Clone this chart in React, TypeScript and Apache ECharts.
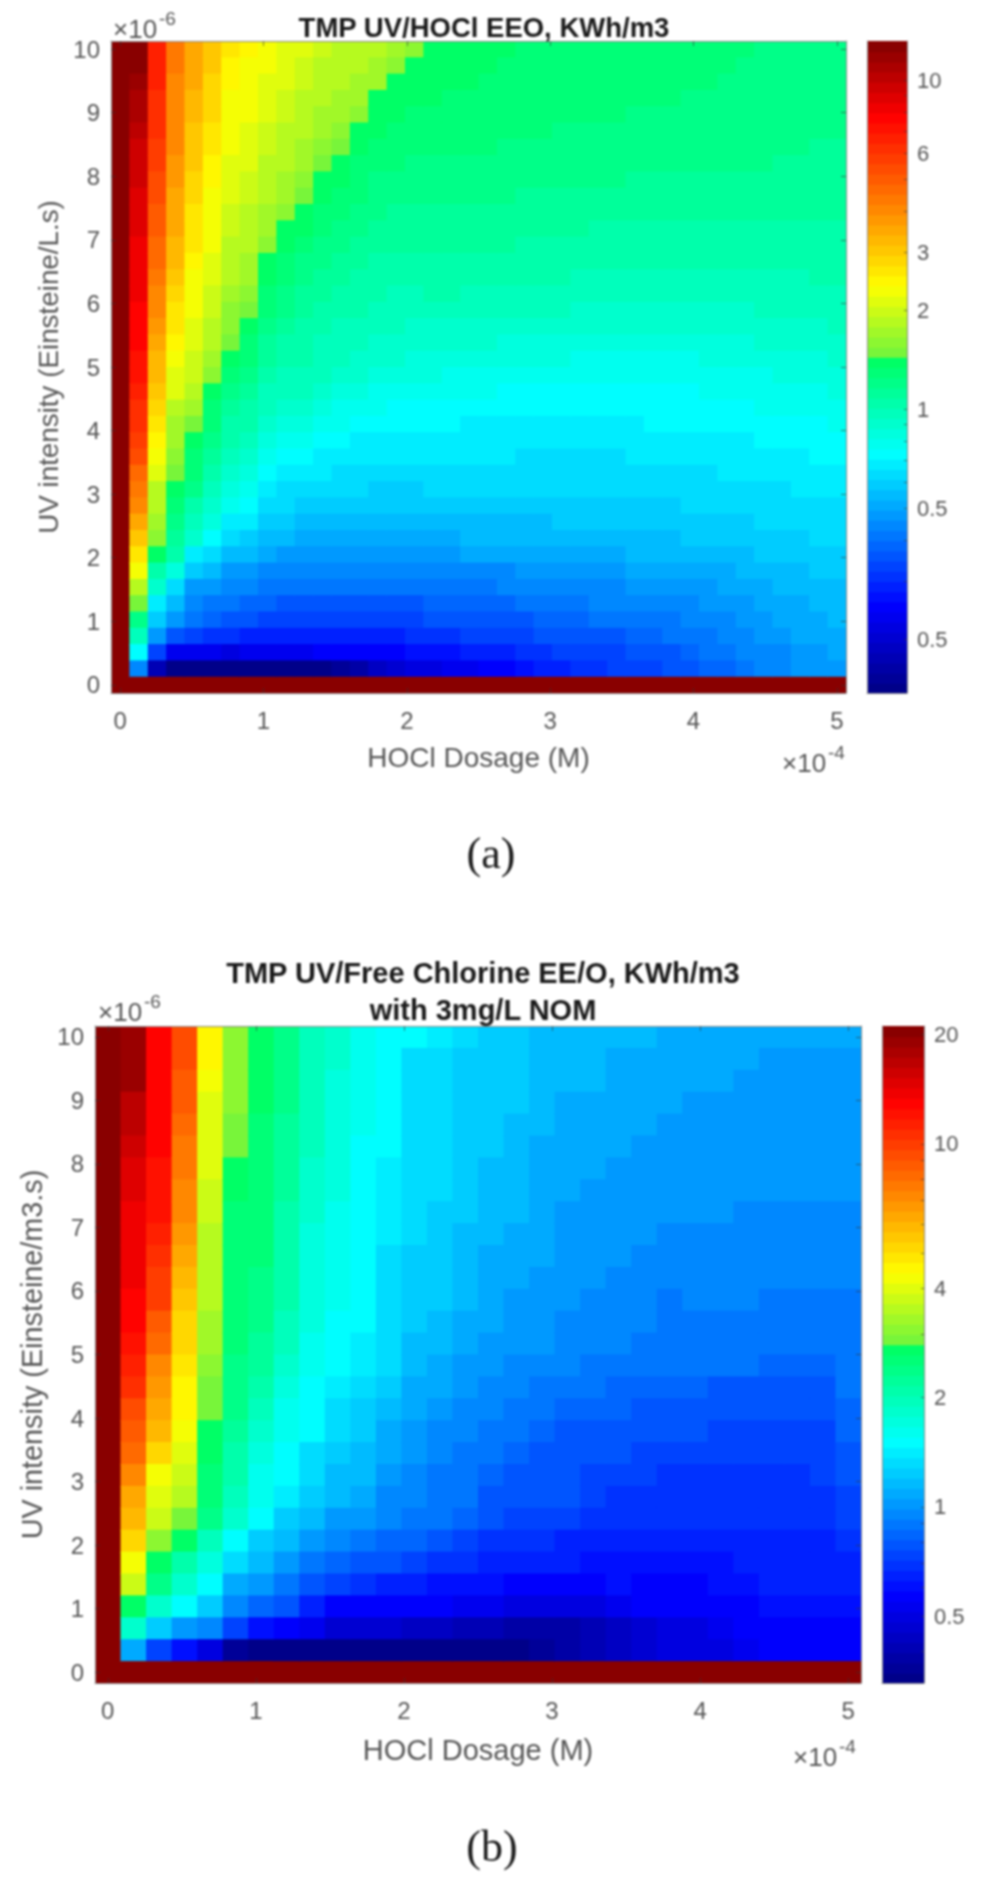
import React, { useEffect, useRef } from "react";
import * as echarts from "echarts";

const titleA = "TMP UV/HOCl EEO, KWh/m3";
const titleB = "TMP UV/Free Chlorine EE/O, KWh/m3\nwith 3mg/L NOM";
const xNameBoth = "HOCl Dosage (M)";
const yNameA = "UV intensity (Einsteine/L.s)";
const yNameB = "UV intensity (Einsteine/m3.s)";
const xTicks = [0, 1, 2, 3, 4, 5];
const yTicks = [0, 1, 2, 3, 4, 5, 6, 7, 8, 9, 10];
const barTicksA = [10, 9, 8, 7, 6, 5, 4, 3, 2, 1, 0.9, 0.8, 0.7, 0.6, 0.5, 0.4, 0.3, 0.2];
const barLabelsA: [number, string][] = [[10, "10"], [6, "6"], [3, "3"], [2, "2"], [1, "1"], [0.5, "0.5"], [0.2, "0.5"]];
const barTicksB = [20, 10, 9, 8, 7, 6, 5, 4, 3, 2, 1, 0.9, 0.8, 0.7, 0.6, 0.5, 0.4];
const barLabelsB: [number, string][] = [[20, "20"], [10, "10"], [4, "4"], [2, "2"], [1, "1"], [0.5, "0.5"]];

// EEO values, one list per HOCl dosage (left to right), each from top row (UV = 10) down to UV = 0
const eeoA = [
[13.5,13.5,13.5,13.5,13.5,13.5,13.5,13.5,13.5,13.5,13.5,13.5,13.5,13.5,13.5,13.5,13.5,13.5,13.5,13.5,13.5,13.5,13.5,13.5,13.5,13.5,13.5,13.5,13.5,13.5,13.5,13.5,13.5,13.5,13.5,13.5,13.5,13.5,13.5,13.5],
[13,12.5,12,11,10.8,10.5,10,9.8,9.5,9.2,9,8.8,8.5,8.4,8.3,8.2,8,7.9,7.7,7.4,7.1,6.9,6.5,6.1,5.7,5.3,4.9,4.5,4.1,3.7,3.2,2.7,2.3,1.9,1.55,1.25,1,.76,.46,13.5],
[6.6,6.6,6.6,6.5,6.4,6.3,6,5.8,5.6,5.4,5.2,5,4.9,4.7,4.5,4.2,4,3.8,3.6,3.4,3.3,3.1,2.9,2.7,2.45,2.3,2.1,1.95,1.85,1.75,1.65,1.38,1.1,.9,.72,.62,.5,.33,.18,13.5],
[4.3,4.3,4.2,4.2,4.2,4.1,4,3.9,3.8,3.7,3.6,3.5,3.4,3.3,3.1,2.9,2.7,2.6,2.5,2.35,2.2,2.1,1.95,1.8,1.7,1.6,1.5,1.38,1.3,1.22,1.15,1.05,.84,.66,.58,.5,.37,.24,.15,13.5],
[3.6,3.6,3.5,3.4,3.3,3.2,3.1,3,2.95,2.85,2.75,2.7,2.6,2.5,2.4,2.35,2.3,2.2,2.1,2.05,2,1.9,1.75,1.55,1.42,1.36,1.3,1.2,1.1,1,.9,.72,.6,.5,.45,.41,.33,.24,.145,13.5],
[3.05,3,2.95,2.9,2.8,2.7,2.6,2.5,2.45,2.4,2.35,2.3,2.25,2.15,2.1,2.05,2,1.9,1.85,1.75,1.6,1.42,1.36,1.3,1.22,1.15,1.08,1,.92,.85,.75,.65,.55,.48,.43,.39,.32,.235,.14,13.5],
[2.6,2.55,2.5,2.4,2.35,2.3,2.25,2.2,2.15,2.1,2.05,2,1.95,1.9,1.85,1.75,1.65,1.6,1.5,1.42,1.34,1.25,1.18,1.1,1.05,1,.95,.88,.8,.72,.65,.58,.5,.45,.41,.37,.31,.23,.14,13.5],
[2.45,2.4,2.35,2.3,2.25,2.2,2.15,2.1,2.05,2,1.95,1.9,1.85,1.8,1.7,1.6,1.52,1.42,1.34,1.28,1.22,1.16,1.1,1.04,.98,.92,.86,.8,.74,.68,.62,.55,.49,.44,.4,.36,.3,.24,.14,13.5],
[2.3,2.25,2.2,2.15,2.1,2.05,2,1.95,1.9,1.85,1.8,1.7,1.6,1.42,1.38,1.33,1.28,1.23,1.18,1.12,1.07,1.02,.98,.92,.86,.8,.75,.7,.66,.62,.57,.52,.47,.43,.39,.35,.3,.24,.14,13.5],
[2.2,2.15,2.1,2.05,2,1.95,1.9,1.85,1.8,1.7,1.6,1.42,1.38,1.33,1.29,1.24,1.19,1.14,1.1,1.05,1,.96,.94,.88,.82,.76,.71,.67,.63,.59,.55,.5,.46,.42,.38,.34,.3,.24,.14,13.5],
[2.1,2.05,2,1.95,1.9,1.85,1.8,1.7,1.6,1.5,1.42,1.37,1.32,1.27,1.22,1.18,1.14,1.1,1.06,1.03,1,.96,.92,.86,.8,.74,.7,.66,.62,.58,.54,.49,.45,.41,.37,.34,.3,.24,.145,13.5],
[2,1.95,1.9,1.85,1.8,1.75,1.65,1.55,1.42,1.38,1.34,1.3,1.26,1.22,1.18,1.14,1.1,1.06,1.02,.99,.96,.92,.87,.81,.77,.72,.68,.65,.61,.57,.53,.49,.45,.41,.38,.34,.3,.25,.15,13.5],
[1.95,1.9,1.85,1.8,1.72,1.65,1.55,1.42,1.38,1.34,1.3,1.26,1.22,1.18,1.14,1.1,1.06,1.02,.99,.96,.93,.88,.83,.78,.74,.7,.67,.64,.6,.56,.53,.48,.45,.41,.38,.34,.3,.25,.16,13.5],
[1.9,1.85,1.8,1.72,1.62,1.42,1.4,1.36,1.32,1.28,1.24,1.2,1.17,1.14,1.1,1.06,1.03,1,.97,.94,.9,.85,.8,.76,.72,.69,.66,.63,.59,.55,.52,.48,.44,.41,.37,.34,.3,.26,.17,13.5],
[1.85,1.8,1.7,1.42,1.4,1.38,1.35,1.31,1.27,1.23,1.19,1.16,1.13,1.1,1.07,1.03,1,.97,.94,.91,.88,.83,.78,.74,.71,.68,.65,.62,.59,.55,.52,.48,.44,.41,.37,.34,.3,.26,.19,13.5],
[1.75,1.62,1.42,1.4,1.37,1.34,1.31,1.28,1.24,1.2,1.17,1.14,1.11,1.08,1.05,1.02,.99,.96,.93,.9,.87,.8,.76,.73,.7,.68,.65,.62,.6,.56,.53,.49,.45,.41,.38,.34,.3,.26,.21,13.5],
[1.62,1.42,1.41,1.39,1.36,1.33,1.3,1.27,1.24,1.21,1.17,1.14,1.11,1.08,1.05,1.02,.98,.95,.92,.89,.85,.8,.76,.73,.7,.68,.65,.62,.59,.56,.53,.49,.45,.41,.38,.35,.31,.27,.22,13.5],
[1.4,1.4,1.39,1.37,1.35,1.33,1.3,1.27,1.24,1.21,1.18,1.15,1.12,1.09,1.06,1.03,.99,.95,.92,.88,.84,.79,.76,.73,.71,.68,.65,.63,.6,.57,.54,.5,.46,.42,.39,.36,.32,.28,.23,13.5],
[1.39,1.39,1.38,1.36,1.34,1.32,1.29,1.26,1.23,1.2,1.18,1.15,1.12,1.09,1.06,1.03,.99,.95,.91,.87,.83,.79,.75,.73,.71,.68,.65,.63,.6,.57,.54,.5,.46,.42,.39,.36,.32,.28,.24,13.5],
[1.38,1.38,1.37,1.35,1.33,1.31,1.28,1.25,1.22,1.2,1.17,1.14,1.12,1.09,1.05,1.02,.98,.94,.9,.86,.82,.78,.75,.72,.7,.68,.65,.63,.6,.58,.55,.51,.47,.43,.39,.36,.33,.29,.245,13.5],
[1.38,1.37,1.36,1.34,1.33,1.31,1.28,1.25,1.22,1.19,1.17,1.14,1.12,1.09,1.05,1.02,.98,.94,.9,.86,.82,.78,.75,.72,.7,.68,.65,.63,.61,.58,.55,.51,.47,.43,.39,.36,.33,.29,.25,13.5],
[1.37,1.36,1.35,1.33,1.32,1.3,1.27,1.25,1.22,1.19,1.16,1.14,1.11,1.08,1.05,1.01,.97,.93,.89,.85,.81,.77,.75,.72,.7,.68,.65,.63,.61,.58,.55,.52,.47,.44,.4,.37,.34,.3,.26,13.5],
[1.36,1.35,1.34,1.33,1.31,1.29,1.27,1.24,1.21,1.18,1.16,1.13,1.1,1.08,1.04,1.01,.97,.93,.89,.85,.8,.77,.74,.71,.69,.67,.65,.63,.6,.58,.56,.52,.48,.44,.41,.38,.35,.31,.28,13.5],
[1.35,1.35,1.33,1.32,1.3,1.28,1.26,1.23,1.21,1.18,1.15,1.12,1.1,1.07,1.03,1,.96,.92,.88,.84,.8,.77,.74,.71,.69,.67,.65,.63,.6,.58,.56,.52,.49,.45,.42,.39,.36,.32,.29,13.5],
[1.35,1.34,1.33,1.31,1.3,1.27,1.25,1.23,1.2,1.17,1.15,1.12,1.09,1.06,1.03,1,.96,.92,.88,.84,.79,.76,.74,.72,.69,.67,.65,.63,.6,.59,.56,.53,.49,.46,.42,.39,.36,.33,.3,13.5],
[1.34,1.33,1.32,1.31,1.29,1.27,1.25,1.22,1.2,1.17,1.14,1.11,1.08,1.05,1.02,.99,.95,.92,.87,.83,.79,.76,.74,.72,.69,.67,.65,.63,.61,.59,.57,.53,.5,.46,.43,.4,.37,.34,.31,13.5],
[1.33,1.33,1.31,1.3,1.28,1.26,1.24,1.22,1.19,1.16,1.13,1.1,1.07,1.05,1.02,.98,.95,.91,.87,.83,.78,.76,.74,.72,.69,.67,.65,.63,.61,.59,.57,.54,.5,.47,.44,.41,.38,.35,.32,13.5],
[1.33,1.32,1.31,1.3,1.28,1.26,1.24,1.22,1.19,1.16,1.13,1.1,1.07,1.04,1.01,.98,.94,.91,.87,.82,.78,.76,.74,.72,.69,.67,.65,.63,.61,.59,.57,.54,.5,.47,.44,.41,.38,.35,.33,13.5],
[1.32,1.31,1.3,1.29,1.27,1.26,1.23,1.21,1.18,1.16,1.13,1.1,1.06,1.04,1.01,.98,.94,.91,.87,.82,.78,.76,.74,.72,.7,.68,.66,.64,.62,.6,.58,.55,.51,.48,.45,.42,.39,.36,.34,13.5],
[1.31,1.3,1.29,1.28,1.27,1.25,1.23,1.21,1.18,1.15,1.13,1.09,1.06,1.04,1.01,.98,.95,.91,.87,.83,.79,.77,.75,.73,.7,.68,.66,.64,.62,.6,.58,.55,.52,.48,.45,.42,.4,.37,.35,13.5],
[1.31,1.3,1.29,1.28,1.26,1.25,1.23,1.2,1.18,1.15,1.12,1.09,1.06,1.03,1,.98,.95,.91,.87,.83,.79,.77,.75,.73,.7,.68,.66,.64,.62,.6,.58,.56,.52,.49,.46,.43,.41,.38,.36,13.5],
[1.3,1.29,1.28,1.27,1.26,1.24,1.22,1.2,1.17,1.15,1.12,1.09,1.06,1.03,1,.98,.95,.91,.88,.83,.8,.77,.75,.73,.71,.69,.67,.65,.63,.61,.59,.56,.53,.5,.47,.44,.42,.39,.37,13.5],
[1.3,1.29,1.28,1.26,1.25,1.24,1.22,1.2,1.17,1.15,1.12,1.09,1.06,1.03,1,.98,.95,.92,.88,.84,.8,.78,.76,.74,.71,.69,.67,.65,.63,.61,.59,.57,.53,.5,.48,.45,.43,.41,.39,13.5],
[1.29,1.28,1.27,1.26,1.25,1.24,1.22,1.2,1.17,1.15,1.12,1.09,1.06,1.03,1,.98,.95,.92,.88,.84,.81,.78,.76,.74,.72,.7,.68,.66,.64,.62,.6,.57,.54,.51,.49,.47,.44,.42,.4,13.5],
[1.28,1.27,1.26,1.25,1.24,1.23,1.21,1.19,1.16,1.14,1.12,1.09,1.06,1.03,1.01,.99,.95,.92,.89,.85,.82,.79,.77,.75,.72,.7,.68,.66,.64,.62,.6,.58,.55,.52,.5,.48,.46,.44,.42,13.5],
[1.27,1.26,1.25,1.24,1.23,1.22,1.2,1.19,1.16,1.14,1.11,1.09,1.06,1.04,1.01,.99,.96,.93,.9,.86,.83,.8,.78,.75,.73,.71,.69,.67,.65,.63,.61,.59,.56,.54,.52,.5,.48,.46,.44,13.5],
[1.27,1.26,1.25,1.23,1.22,1.21,1.2,1.18,1.16,1.14,1.11,1.09,1.07,1.04,1.02,1,.96,.94,.91,.87,.84,.81,.78,.76,.74,.71,.69,.67,.65,.63,.61,.59,.57,.55,.53,.51,.49,.47,.46,13.5],
[1.26,1.25,1.24,1.23,1.22,1.21,1.19,1.18,1.16,1.14,1.11,1.09,1.07,1.05,1.02,1,.97,.95,.92,.88,.85,.82,.79,.77,.74,.72,.7,.68,.66,.64,.62,.6,.58,.56,.54,.52,.51,.49,.48,13.5],
[1.25,1.24,1.23,1.22,1.21,1.2,1.18,1.17,1.15,1.13,1.11,1.09,1.07,1.05,1.03,1.01,.98,.95,.93,.89,.87,.83,.8,.77,.75,.73,.7,.69,.67,.65,.63,.61,.59,.57,.55,.54,.52,.5,.49,13.5],
[1.25,1.24,1.23,1.22,1.21,1.2,1.18,1.17,1.15,1.13,1.11,1.09,1.07,1.05,1.03,1.01,.98,.96,.93,.91,.88,.84,.81,.78,.76,.73,.71,.69,.67,.65,.63,.61,.59,.58,.56,.55,.53,.52,.5,13.5],
];

const eeoB = [
[21.5,21.5,21.5,21.5,21.5,21.5,21.5,21.5,21.5,21.5,21.5,21.5,21.5,21.5,21.5,21.5,21.5,21.5,21.5,21.5,21.5,21.5,21.5,21.5,21.5,21.5,21.5,21.5,21.5,21.5],
[20,19,19,17.5,17,16,15.5,15,14.5,14,14,13.8,13.6,13.4,12.8,11.8,10.6,9.5,8.8,8.2,7.4,6.6,6,5.4,4.4,3.8,2.76,1.92,1.13,21.5],
[13.5,13.5,13.5,13.5,13.5,13.5,12.5,12.4,12.3,11.4,11.2,10.2,10,9,8.2,7.4,6.8,6.4,6,5.3,4.5,4.2,3.8,3.1,2.76,2.39,1.92,1.32,.77,21.5],
[9.6,9.4,9.2,8.8,8.4,8,7.7,7.4,7.2,6.9,6.7,6.2,5.7,5.4,5.2,5,4.85,4.7,4.4,4,3.8,3.6,3.05,2.76,2.22,1.92,1.58,1.05,.64,21.5],
[4.7,4.7,4.5,4.25,4.2,4.05,4,3.9,3.85,3.7,3.7,3.65,3.6,3.45,3.3,3.2,3.05,2.9,2.76,2.76,2.65,2.57,2.39,2.06,1.75,1.57,1.3,.97,.53,21.5],
[3.15,3.15,3.1,3.1,3.05,3.05,2.75,2.72,2.7,2.7,2.68,2.65,2.62,2.6,2.55,2.5,2.45,2.39,2.3,2.22,2.14,2.06,1.92,1.57,1.37,1.13,.97,.77,.37,21.5],
[2.76,2.76,2.76,2.75,2.65,2.65,2.62,2.6,2.6,2.55,2.55,2.52,2.5,2.45,2.35,2.25,2.12,2.04,1.92,1.77,1.71,1.68,1.57,1.32,1.18,1.05,.85,.64,.355,21.5],
[2.45,2.4,2.4,2.4,2.35,2.3,2.28,2.25,2.2,2.18,2.15,2.12,2.1,2.05,2,1.9,1.8,1.7,1.62,1.6,1.56,1.45,1.3,1.22,1.05,.94,.8,.6,.345,21.5],
[2.06,2.06,2.04,2,2,1.98,1.95,1.9,1.85,1.82,1.8,1.78,1.75,1.72,1.7,1.65,1.6,1.56,1.51,1.4,1.39,1.27,1.18,1.05,.94,.8,.665,.56,.34,21.5],
[1.85,1.85,1.82,1.8,1.78,1.76,1.75,1.72,1.7,1.66,1.65,1.63,1.62,1.6,1.58,1.54,1.5,1.39,1.35,1.32,1.24,1.18,1.09,.97,.87,.74,.594,.5,.34,21.5],
[1.68,1.68,1.66,1.63,1.62,1.61,1.6,1.58,1.57,1.56,1.55,1.54,1.53,1.52,1.49,1.45,1.38,1.3,1.27,1.22,1.18,1.13,1.05,.94,.8,.7,.594,.49,.34,21.5],
[1.56,1.56,1.56,1.56,1.56,1.56,1.48,1.46,1.45,1.42,1.38,1.36,1.35,1.35,1.35,1.34,1.27,1.22,1.155,1.11,1.05,1.01,.97,.885,.79,.68,.594,.485,.34,21.5],
[1.56,1.395,1.395,1.395,1.395,1.395,1.345,1.345,1.345,1.345,1.295,1.295,1.295,1.245,1.23,1.22,1.155,1.13,1.09,1.05,1.01,.97,.94,.87,.75,.665,.594,.466,.34,21.5],
[1.45,1.345,1.345,1.345,1.345,1.345,1.345,1.345,1.295,1.295,1.295,1.245,1.245,1.2,1.17,1.13,1.11,1.05,1.01,.97,.94,.92,.9,.8,.72,.64,.58,.445,.34,21.5],
[1.345,1.295,1.295,1.295,1.245,1.245,1.245,1.245,1.245,1.2,1.2,1.2,1.2,1.13,1.1,1.07,1.05,1.01,.97,.94,.92,.9,.87,.775,.705,.63,.556,.425,.34,21.5],
[1.32,1.27,1.27,1.27,1.27,1.27,1.2,1.2,1.2,1.2,1.155,1.155,1.11,1.11,1.08,1.03,.99,.97,.92,.9,.85,.84,.82,.73,.68,.62,.54,.415,.34,21.5],
[1.27,1.245,1.245,1.245,1.18,1.18,1.18,1.18,1.18,1.13,1.13,1.13,1.09,1.07,1.05,1.01,.97,.92,.9,.85,.836,.82,.775,.72,.665,.6,.53,.408,.34,21.5],
[1.22,1.22,1.2,1.2,1.2,1.155,1.155,1.11,1.11,1.11,1.11,1.07,1.07,1.07,1.05,.99,.955,.9,.885,.836,.82,.805,.76,.705,.653,.594,.52,.4,.37,21.5],
[1.2,1.2,1.2,1.155,1.155,1.11,1.11,1.11,1.07,1.07,1.07,1.03,1.03,.99,.98,.97,.92,.885,.836,.82,.79,.79,.746,.69,.653,.594,.52,.408,.4,21.5],
[1.18,1.18,1.18,1.13,1.13,1.11,1.11,1.05,1.05,1.05,1.03,1.03,.99,.98,.97,.955,.9,.868,.836,.805,.775,.746,.732,.678,.641,.583,.53,.42,.42,21.5],
[1.18,1.13,1.13,1.13,1.11,1.11,1.05,1.05,1.05,1.03,1.03,.99,.99,.97,.96,.937,.885,.852,.82,.79,.76,.732,.718,.665,.629,.617,.556,.445,.445,21.5],
[1.17,1.13,1.13,1.13,1.13,1.07,1.07,1.04,1.04,1.04,.99,.99,.99,.97,.95,.937,.868,.836,.805,.76,.746,.718,.705,.665,.629,.605,.58,.485,.485,21.5],
[1.155,1.12,1.12,1.12,1.09,1.09,1.04,1.04,1.04,.99,.99,.99,.955,.955,.94,.92,.852,.82,.79,.76,.732,.718,.705,.665,.629,.605,.583,.505,.505,21.5],
[1.13,1.13,1.13,1.07,1.05,1.05,1.05,1.05,1.05,.98,.98,.98,.98,.945,.93,.92,.852,.82,.79,.76,.732,.718,.705,.665,.629,.605,.594,.53,.52,21.5],
[1.13,1.13,1.13,1.07,1.05,1.05,1.05,1.05,1.05,.98,.98,.98,.98,.945,.93,.9,.836,.82,.775,.76,.732,.718,.705,.665,.641,.61,.594,.556,.53,21.5],
[1.12,1.12,1.05,1.05,1.05,1.05,1.05,1.05,.97,.97,.97,.97,.97,.937,.92,.9,.836,.805,.775,.746,.732,.718,.705,.665,.653,.617,.594,.594,.556,21.5],
[1.11,1.05,1.05,1.05,1.05,1.05,1.05,1.05,.99,.99,.99,.99,.937,.937,.937,.885,.836,.805,.775,.746,.732,.718,.705,.678,.653,.653,.617,.594,.583,21.5],
[1.11,1.05,1.05,1.05,1.05,1.05,1.05,1.05,.99,.99,.99,.99,.937,.937,.937,.885,.836,.805,.775,.746,.732,.718,.705,.678,.665,.653,.62,.594,.594,21.5],
[1.11,1.05,1.05,1.05,1.05,1.05,1.05,1.05,.99,.99,.99,.99,.937,.937,.937,.885,.836,.805,.775,.746,.746,.732,.718,.691,.678,.653,.62,.594,.594,21.5],
[1.11,1.05,1.05,1.05,1.05,1.05,1.05,1.05,.99,.99,.99,.99,.955,.955,.955,.955,.955,.885,.885,.836,.836,.775,.76,.718,.678,.653,.629,.594,.594,21.5],
];

const colorStops: [number, number, number, number][] = [
  [0, 0, 0, 130], [0.135, 0, 0, 255], [0.25, 0, 128, 255], [0.368, 0, 255, 255],
  [0.51, 0, 255, 100], [0.52, 115, 245, 60], [0.625, 255, 255, 0], [0.75, 255, 128, 0],
  [0.885, 255, 0, 0], [1, 128, 0, 0],
];
const LEVELS = 64;

function levelColor(level: number) {
  const p = (level + 0.5) / LEVELS;
  for (let i = 1; i < colorStops.length; i++) {
    const a = colorStops[i - 1];
    const b = colorStops[i];
    if (p <= b[0]) {
      const t = (p - a[0]) / (b[0] - a[0]);
      const c = [1, 2, 3].map((k) => Math.round(a[k] + (b[k] - a[k]) * t));
      return `rgb(${c[0]},${c[1]},${c[2]})`;
    }
  }
  return "rgb(128,0,0)";
}

function heatSeries(table: number[][], xIndex: number, yIndex: number, domain: [number, number], xMax: number, yMax: number) {
  const nx = table.length;
  const ny = table[0].length;
  const hw = xMax / (nx - 1) / 2;
  const hh = yMax / (ny - 1) / 2;
  const data: number[][] = [];
  table.forEach((col, c) =>
    col.forEach((v, r) => data.push([(c * xMax) / (nx - 1), ((ny - 1 - r) * yMax) / (ny - 1), v]))
  );
  return {
    type: "custom",
    xAxisIndex: xIndex,
    yAxisIndex: yIndex,
    progressive: 0,
    silent: true,
    clip: true,
    z: 2,
    data,
    renderItem(_: any, api: any) {
      const x = api.value(0);
      const y = api.value(1);
      const p = (Math.log10(api.value(2)) - domain[0]) / (domain[1] - domain[0]);
      const level = Math.max(0, Math.min(LEVELS - 1, Math.floor(p * LEVELS)));
      const a = api.coord([x - hw, y + hh]);
      const b = api.coord([x + hw, y - hh]);
      return {
        type: "rect",
        shape: { x: a[0], y: a[1], width: b[0] - a[0] + 1, height: b[1] - a[1] + 1 },
        style: { fill: levelColor(level), stroke: null },
      };
    },
  };
}

function barSeries(xIndex: number, yIndex: number, range: [number, number]) {
  const step = (range[1] - range[0]) / LEVELS;
  const data = Array.from({ length: LEVELS }, (_, i) => [i]);
  return {
    type: "custom",
    xAxisIndex: xIndex,
    yAxisIndex: yIndex,
    progressive: 0,
    silent: true,
    clip: true,
    z: 2,
    data,
    renderItem(_: any, api: any) {
      const level = api.value(0);
      const a = api.coord([0, range[0] + (level + 1) * step]);
      const b = api.coord([1, range[0] + level * step]);
      return {
        type: "rect",
        shape: { x: a[0], y: a[1], width: b[0] - a[0], height: b[1] - a[1] + 1 },
        style: { fill: levelColor(level), stroke: null },
      };
    },
  };
}

const FONT = "Liberation Sans";
const GRAY = "#565656";
const LINE = { show: true, onZero: false, lineStyle: { color: "#8a8a8a", width: 1 } };
const TICK = { show: true, inside: true, length: 5, lineStyle: { color: "#333", width: 1, opacity: 0.6 } };

function plotAxes(xMin: number, xMax: number, yMin: number, yMax: number, grid: number, yName: string, names: { xSize: number; xGap: number; ySize: number; yGap: number }) {
  const labelX = { show: true, customValues: xTicks, color: GRAY, fontFamily: FONT, fontSize: 24, margin: 15, hideOverlap: false };
  const labelY = { show: true, customValues: yTicks, color: GRAY, fontFamily: FONT, fontSize: 24, margin: 11, hideOverlap: false };
  const tickX = { ...TICK, customValues: xTicks };
  const tickY = { ...TICK, customValues: yTicks };
  const base = { type: "value", gridIndex: grid, splitLine: { show: false }, axisLine: LINE, z: 3 };
  return {
    x: [
      {
        ...base, min: xMin, max: xMax, position: "bottom", axisLabel: labelX, axisTick: tickX,
        name: xNameBoth, nameLocation: "middle", nameGap: names.xGap,
        nameTextStyle: { fontFamily: FONT, fontSize: names.xSize, color: GRAY },
      },
      { ...base, min: xMin, max: xMax, position: "top", axisLabel: { show: false }, axisTick: tickX },
    ],
    y: [
      {
        ...base, min: yMin, max: yMax, position: "left", axisLabel: labelY, axisTick: tickY,
        name: yName, nameLocation: "middle", nameGap: names.yGap,
        nameTextStyle: { fontFamily: FONT, fontSize: names.ySize, color: GRAY },
      },
      { ...base, min: yMin, max: yMax, position: "right", axisLabel: { show: false }, axisTick: tickY },
    ],
  };
}

function barAxes(grid: number, range: [number, number], ticks: number[], labels: [number, string][]) {
  const base = { type: "value", gridIndex: grid, splitLine: { show: false }, axisLine: LINE, z: 3 };
  return {
    x: [{ ...base, min: 0, max: 1, position: "bottom", axisLabel: { show: false }, axisTick: { show: false } }],
    y: [
      {
        ...base, min: range[0], max: range[1], position: "right",
        axisTick: { ...TICK, length: 3, customValues: ticks.map((v) => Math.log10(v)) },
        axisLabel: {
          show: true, hideOverlap: false, customValues: labels.map((l) => Math.log10(l[0])),
          color: GRAY, fontFamily: FONT, fontSize: 22, margin: 10,
          formatter: (v: number) => {
            const hit = labels.find((l) => Math.abs(Math.log10(l[0]) - v) < 1e-6);
            return hit ? hit[1] : "";
          },
        },
      },
      { ...base, min: range[0], max: range[1], position: "left", axisLabel: { show: false }, axisTick: { show: false } },
    ],
  };
}

function expo(x: number, y: number, exp: string) {
  return [
    { type: "text", x, y, style: { text: "×10", fontFamily: FONT, fontSize: 26, fill: GRAY, verticalAlign: "middle" } },
    { type: "text", x: x + 46, y: y - 11, style: { text: exp, fontFamily: FONT, fontSize: 19, fill: GRAY, verticalAlign: "middle" } },
  ];
}

export default function App() {
  const ref = useRef<HTMLDivElement>(null);
  useEffect(() => {
    const chart = echarts.init(ref.current!, undefined, { renderer: "svg" });
    const xA = 5 / 78;
    const yA = 10 / 78;
    const xB = 5 / 58;
    const yB = 10 / 58;
    const rangeA: [number, number] = [-0.863, 1.119];
    const rangeB: [number, number] = [-0.485, 1.325];
    const a = plotAxes(-xA, 5 + xA, -yA, 10 + yA, 0, yNameA, { xSize: 28, xGap: 50, ySize: 27.8, yGap: 48 });
    const ba = barAxes(1, rangeA, barTicksA, barLabelsA);
    const b = plotAxes(-xB, 5 + xB, -yB, 10 + yB, 2, yNameB, { xSize: 29, xGap: 52, ySize: 28.8, yGap: 49 });
    const bb = barAxes(3, rangeB, barTicksB, barLabelsB);
    chart.setOption({
      animation: false,
      backgroundColor: "#ffffff",
      title: [
        { text: titleA, left: 479, top: 8, textAlign: "center", textStyle: { fontFamily: FONT, fontSize: 27.5, fontWeight: "bold", color: "#1a1a1a" } },
        { text: titleB, left: 478, top: 949, textAlign: "center", textStyle: { fontFamily: FONT, fontSize: 29, fontWeight: "bold", color: "#1a1a1a", lineHeight: 37 } },
      ],
      grid: [
        { left: 111, top: 41, width: 735, height: 652 },
        { left: 867, top: 41, width: 40, height: 652 },
        { left: 95, top: 1026, width: 766, height: 657 },
        { left: 882, top: 1026, width: 42, height: 657 },
      ],
      xAxis: [...a.x, ...ba.x, ...b.x, ...bb.x],
      yAxis: [...a.y, ...ba.y, ...b.y, ...bb.y],
      series: [
        heatSeries(eeoA, 0, 0, [-0.852, 1.124], 5, 10),
        barSeries(2, 2, rangeA),
        heatSeries(eeoB, 3, 4, [-0.47, 1.335], 5, 10),
        barSeries(5, 6, rangeB),
      ],
      graphic: [
        ...expo(113, 29, "-6"),
        ...expo(782, 763, "-4"),
        ...expo(98, 1012, "-6"),
        ...expo(793, 1757, "-4"),
        { type: "text", x: 491, y: 853, style: { text: "(a)", fontFamily: "Liberation Serif", fontSize: 44, fill: "#1a1a1a", align: "center", verticalAlign: "middle" } },
        { type: "text", x: 492, y: 1846, style: { text: "(b)", fontFamily: "Liberation Serif", fontSize: 44, fill: "#1a1a1a", align: "center", verticalAlign: "middle" } },
      ],
    });
    return () => chart.dispose();
  }, []);
  return (
    <div
      ref={ref}
      style={{ position: "absolute", left: 0, top: 0, width: 993, height: 1886, filter: "blur(1px)" }}
    />
  );
}
